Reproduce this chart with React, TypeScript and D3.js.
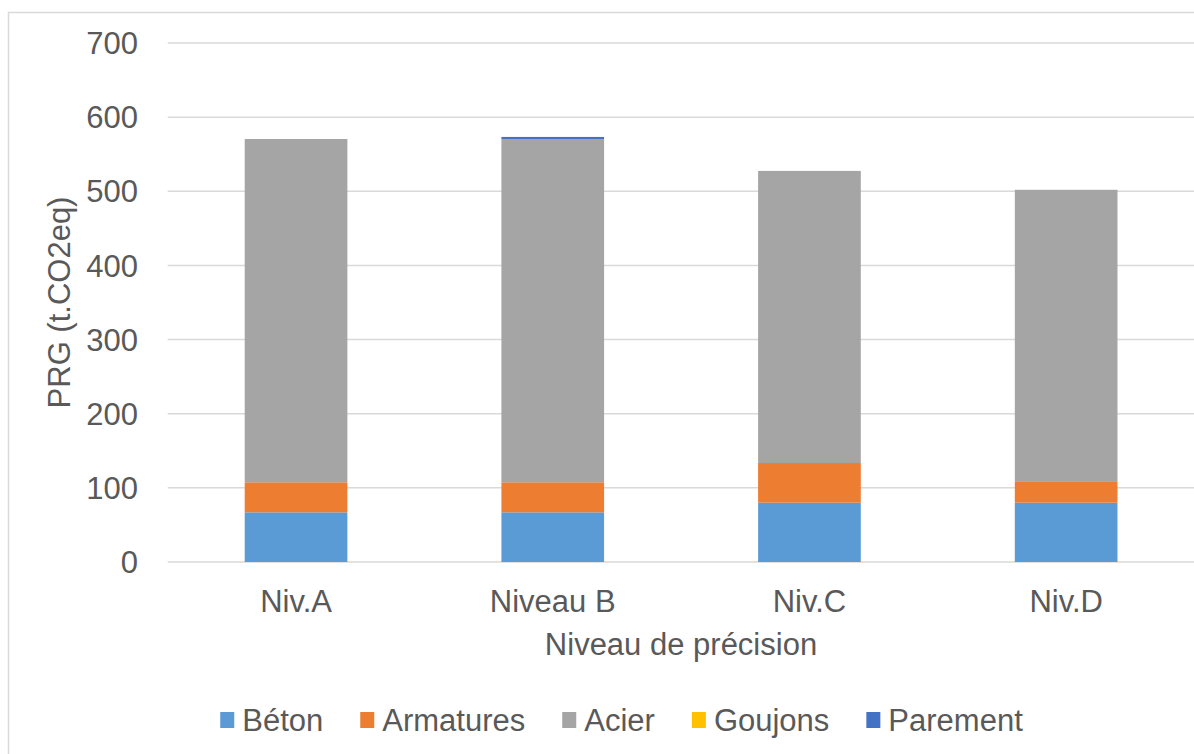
import { useEffect, useRef } from "react";
import * as d3 from "d3";

const categories = ["Niv.A", "Niveau B", "Niv.C", "Niv.D"];
const seriesNames = ["Béton", "Armatures", "Acier", "Goujons", "Parement"];
const beton = [67, 67, 80, 80];
const armatures = [40.5, 40.5, 53.5, 28];
const acier = [463, 463, 394, 394];
const goujons = [0, 0, 0, 0];
const parement = [0, 2.8, 0, 0];
const yTicks = [0, 100, 200, 300, 400, 500, 600, 700];
const colors = ["#5B9BD5", "#ED7D31", "#A5A5A5", "#FFC000", "#4472C4"];

const FONT = "'Liberation Sans', Arial, sans-serif";
const TEXT = "#595959";

export default function App() {
  const svgRef = useRef<SVGSVGElement | null>(null);

  useEffect(() => {
    if (!svgRef.current) return;
    const svg = d3.select(svgRef.current);
    svg.selectAll("*").remove();

    const width = 1194;
    const height = 754;
    const plot = { left: 167.7, right: 1194.5, top: 43, bottom: 562 };

    // chart frame (cut off at the right and bottom in the reference)
    svg
      .append("rect")
      .attr("x", 8.5)
      .attr("y", 12.5)
      .attr("width", 1250)
      .attr("height", 800)
      .attr("fill", "#fff")
      .attr("stroke", "#d9d9d9")
      .attr("stroke-width", 1.5);

    const rows = categories.map((cat, i) => ({
      cat,
      Béton: beton[i],
      Armatures: armatures[i],
      Acier: acier[i],
      Goujons: goujons[i],
      Parement: parement[i],
    }));

    const x = d3
      .scaleBand<string>()
      .domain(categories)
      .range([plot.left, plot.right])
      .paddingInner(0.6)
      .paddingOuter(0.3);
    const y = d3.scaleLinear().domain([0, 700]).range([plot.bottom, plot.top]);

    // gridlines
    svg
      .append("g")
      .selectAll("line")
      .data(yTicks)
      .enter()
      .append("line")
      .attr("x1", plot.left)
      .attr("x2", width)
      .attr("y1", (d) => y(d))
      .attr("y2", (d) => y(d))
      .attr("stroke", "#d9d9d9")
      .attr("stroke-width", 1.5);

    // y tick labels
    svg
      .append("g")
      .selectAll("text")
      .data(yTicks)
      .enter()
      .append("text")
      .attr("x", 138)
      .attr("y", (d) => y(d))
      .attr("dy", "0.36em")
      .attr("text-anchor", "end")
      .attr("fill", TEXT)
      .style("font-family", FONT)
      .style("font-size", "31px")
      .text((d) => String(d));

    // stacked bars
    const stack = d3.stack<any>().keys(seriesNames)(rows);
    svg
      .append("g")
      .selectAll("g")
      .data(stack)
      .enter()
      .append("g")
      .attr("fill", (_, i) => colors[i])
      .selectAll("rect")
      .data((s) => s)
      .enter()
      .append("rect")
      .attr("x", (d) => x(d.data.cat) ?? 0)
      .attr("width", x.bandwidth())
      .attr("y", (d) => y(d[1]))
      .attr("height", (d) => Math.max(0, y(d[0]) - y(d[1])));

    // x tick labels
    svg
      .append("g")
      .selectAll("text")
      .data(categories)
      .enter()
      .append("text")
      .attr("x", (d) => (x(d) ?? 0) + x.bandwidth() / 2)
      .attr("y", 612)
      .attr("text-anchor", "middle")
      .attr("fill", TEXT)
      .style("font-family", FONT)
      .style("font-size", "31px")
      .text((d) => d);

    // axis titles
    svg
      .append("text")
      .attr("x", 681)
      .attr("y", 655)
      .attr("text-anchor", "middle")
      .attr("fill", TEXT)
      .style("font-family", FONT)
      .style("font-size", "31px")
      .text("Niveau de précision");

    svg
      .append("text")
      .attr("transform", `translate(70,${(plot.top + plot.bottom) / 2}) rotate(-90)`)
      .attr("text-anchor", "middle")
      .attr("fill", TEXT)
      .style("font-family", FONT)
      .style("font-size", "31px")
      .text("PRG (t.CO2eq)");

    // legend
    const legend = svg.append("g");
    const items = seriesNames.map((name, i) => {
      const g = legend.append("g");
      g.append("rect")
        .attr("y", 712)
        .attr("width", 14)
        .attr("height", 16)
        .attr("fill", colors[i]);
      const t = g
        .append("text")
        .attr("x", 22)
        .attr("y", 731)
        .attr("fill", TEXT)
        .style("font-family", FONT)
        .style("font-size", "31px")
        .text(name);
      const w = (t.node() as SVGTextElement).getComputedTextLength();
      return { g, w: 22 + w };
    });
    const gap = 37;
    const total = d3.sum(items, (d) => d.w) + gap * (items.length - 1);
    let cx = 621.5 - total / 2;
    items.forEach((it) => {
      it.g.attr("transform", `translate(${cx},0)`);
      cx += it.w + gap;
    });

    svg.attr("width", width).attr("height", height);
  }, []);

  return (
    <div style={{ position: "fixed", left: 0, top: 0, width: 1194, height: 754, background: "#fff" }}>
      <svg ref={svgRef} width={1194} height={754} style={{ display: "block" }} />
    </div>
  );
}
